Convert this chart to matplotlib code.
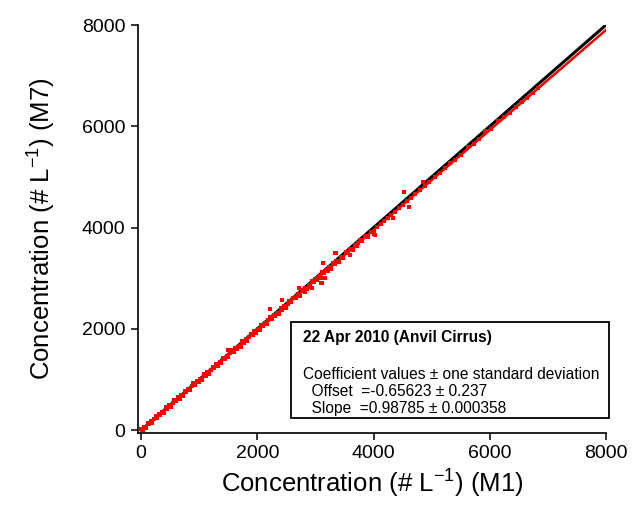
import numpy as np
import matplotlib
matplotlib.use('Agg')
import matplotlib.pyplot as plt
from matplotlib.patches import Rectangle

plt.rcParams['font.family'] = ['Liberation Sans', 'DejaVu Sans']
plt.rcParams['mathtext.fontset'] = 'custom'
plt.rcParams['mathtext.rm'] = 'Liberation Sans'
plt.rcParams['mathtext.default'] = 'regular'

# M1 vs M7 concentrations (# L-1)
m1 = [0, 30, 55, 80, 110, 140, 165, 190, 220, 250, 275, 300, 330, 360, 390, 420,
      450, 480, 510, 540, 570, 600, 630, 660, 690, 720, 750, 780, 810, 840, 870,
      900, 930, 960, 990, 1020, 1050, 1080, 1110, 1140, 1170, 1200, 1230, 1260,
      1290, 1320, 1350, 1380, 1410, 1440, 1470, 1500, 1497, 1530, 1560, 1590,
      1620, 1650, 1680, 1710, 1740, 1770, 1800, 1830, 1860, 1890, 1920, 1950,
      1980, 2010, 2040, 2070, 2100, 2130, 2160, 2190, 2220, 2220, 2250, 2280,
      2310, 2340, 2370, 2400, 2430, 2432, 2460, 2490, 2520, 2550, 2580, 2610,
      2640, 2670, 2700, 2725, 2730, 2760, 2790, 2820, 2823, 2850, 2880, 2910,
      2938, 2940, 2970, 3000, 3022, 3030, 3060, 3090, 3098, 3115, 3120, 3138,
      3150, 3167, 3180, 3210, 3240, 3241, 3270, 3300, 3330, 3339, 3356, 3360,
      3400, 3440, 3480, 3520, 3560, 3597, 3600, 3640, 3680, 3720, 3740, 3760,
      3800, 3850, 3900, 3950, 4000, 4010, 4028, 4060, 4120, 4180, 4240, 4300,
      4337, 4370, 4440, 4500, 4527, 4580, 4613, 4650, 4720, 4800, 4854, 4880,
      4960, 5050, 5140, 5230, 5318, 5400, 5500, 5633, 5720, 5820, 5921, 6020,
      6150, 6250, 6351, 6450, 6550, 6638, 6740, 6838]
m7 = [15, 0, 64, 39, 149, 118, 183, 143, 222, 282, 247, 326, 291, 366, 345, 455,
      425, 494, 459, 539, 598, 568, 652, 617, 692, 671, 781, 751, 820, 785, 865,
      924, 894, 978, 943, 1018, 997, 1107, 1077, 1146, 1111, 1191, 1250, 1220,
      1305, 1269, 1344, 1323, 1433, 1403, 1472, 1437, 1581, 1517, 1576, 1546,
      1631, 1595, 1670, 1649, 1759, 1729, 1798, 1763, 1843, 1902, 1872, 1957,
      1921, 1996, 1976, 2085, 2055, 2124, 2089, 2169, 2390, 2228, 2198, 2283,
      2247, 2322, 2302, 2411, 2381, 2569, 2450, 2415, 2495, 2554, 2524, 2609,
      2633, 2608, 2683, 2800, 2657, 2762, 2742, 2811, 2734, 2786, 2860, 2835,
      2800, 2940, 2919, 2989, 2998, 2964, 3038, 3013, 2899, 2905, 3117, 3294,
      3097, 2998, 3167, 3141, 3216, 3228, 3191, 3295, 3275, 3492, 3498, 3344,
      3329, 3413, 3398, 3512, 3502, 3458, 3581, 3566, 3650, 3635, 3689, 3749,
      3739, 3828, 3823, 3917, 3911, 3874, 3854, 4015, 4065, 4135, 4185, 4250,
      4190, 4310, 4390, 4440, 4703, 4530, 4407, 4590, 4665, 4740, 4901, 4822,
      4895, 4990, 5075, 5168, 5270, 5335, 5432, 5599, 5650, 5752, 5900, 5948,
      6100, 6175, 6259, 6372, 6470, 6555, 6660, 6752]

OFFSET = -0.65623
SLOPE = 0.98785
AX_MAX = 8000

fig = plt.figure(figsize=(6.37, 5.21), dpi=100)
ax = fig.add_axes([0.2166, 0.169, 0.7347, 0.783])

# 1:1 line, linear fit, then the measurements
ax.plot([0, AX_MAX], [0, AX_MAX], color='black', lw=2.2, zorder=2)
fit_x = np.array([0, AX_MAX])
ax.plot(fit_x, OFFSET + SLOPE * fit_x, color='#ee0000', lw=1.8, zorder=3)
ax.plot(m1, m7, 's', color='red', ms=2.6, mew=0, zorder=4)

ax.set_xlim(-55, AX_MAX)
ax.set_ylim(-55, AX_MAX)
ax.set_xticks([0, 2000, 4000, 6000, 8000])
ax.set_yticks([0, 2000, 4000, 6000, 8000])
ax.spines['top'].set_visible(False)
ax.spines['right'].set_visible(False)
for s in ['left', 'bottom']:
    ax.spines[s].set_linewidth(1.2)
ax.tick_params(direction='out', length=5, width=1.1, labelsize=14, pad=4)

ax.set_xlabel(r'Concentration (# L$^{-1}$) (M1)', fontsize=18.5, labelpad=4)
ax.set_ylabel(r'Concentration (# L$^{-1}$) (M7)', fontsize=18.5, labelpad=17)

# coefficient box
fig.patches.append(Rectangle((0.457, 0.198), 0.499, 0.184, transform=fig.transFigure,
                             fill=False, edgecolor='black', lw=1.3))
fig.text(0.476, 0.353, '22 Apr 2010 (Anvil Cirrus)', fontsize=11.2, fontweight='bold',
         va='center')
fig.text(0.476, 0.282, 'Coefficient values \u00b1 one standard deviation', fontsize=11.2,
         va='center')
fig.text(0.476, 0.249, f'  Offset  ={OFFSET} \u00b1 0.237', fontsize=11.2, va='center')
fig.text(0.476, 0.216, f'  Slope  ={SLOPE} \u00b1 0.000358', fontsize=11.2, va='center')

fig.savefig('out.png', dpi=100)
